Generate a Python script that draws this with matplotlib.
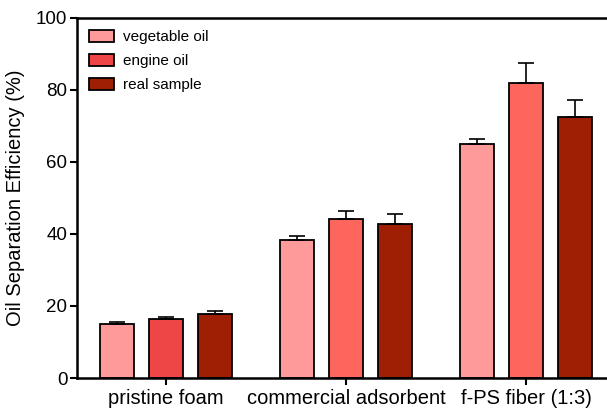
import matplotlib
matplotlib.use('Agg')
import matplotlib.pyplot as plt
import numpy as np

plt.rcParams['font.family'] = ['Liberation Sans', 'DejaVu Sans']

# Data
groups = ["pristine foam", "commercial adsorbent", "f-PS fiber (1:3)"]
series = ["vegetable oil", "engine oil", "real sample"]
vegetable = [15.0, 38.3, 65.0]
vegetable_err = [0.5, 1.1, 1.4]
engine = [16.4, 44.2, 81.9]
engine_err = [0.5, 2.2, 5.6]
real = [17.8, 42.8, 72.5]
real_err = [0.8, 2.7, 4.7]

COLORS = {
    "vegetable": "#FF9A9A",
    "engine": "#FC665C",
    "engine_first": "#EE4646",
    "real": "#9E1F04",
}

fig = plt.figure(figsize=(6.07, 4.08), dpi=100)
ax = fig.add_axes([0.127, 0.0735, 0.873, 0.8825])

x = np.arange(len(groups))
off = 0.272
w = 0.189
bar_kw = dict(width=w, edgecolor='black', linewidth=1.3,
              error_kw=dict(ecolor='black', elinewidth=1.2, capsize=6, capthick=1.2))

engine_colors = [COLORS["engine_first"], COLORS["engine"], COLORS["engine"]]
ax.bar(x - off, vegetable, yerr=[np.zeros(3), vegetable_err], color=COLORS["vegetable"],
       label=series[0], **bar_kw)
ax.bar(x, engine, yerr=[np.zeros(3), engine_err], color=engine_colors,
       label=series[1], **bar_kw)
ax.bar(x + off, real, yerr=[np.zeros(3), real_err], color=COLORS["real"],
       label=series[2], **bar_kw)

ax.set_xlim(-0.494, 2.45)
ax.set_ylim(0, 100)
ax.set_xticks(x)
ax.set_xticklabels(groups, fontsize=14.5)
ax.set_yticks([0, 20, 40, 60, 80, 100])
ax.tick_params(axis='y', labelsize=13.5, direction='out', length=5, width=1.5, pad=2)
ax.tick_params(axis='x', direction='out', length=5, width=1.5, pad=3)
ax.set_ylabel("Oil Separation Efficiency (%)", fontsize=14.5, labelpad=8)

for side in ['left', 'bottom', 'top']:
    ax.spines[side].set_linewidth(1.8)
ax.spines['right'].set_visible(False)

leg = ax.legend(loc='upper left', bbox_to_anchor=(0.0, 1.0), frameon=False, fontsize=11,
                handlelength=1.6, handleheight=0.8, labelspacing=0.65, borderaxespad=0.4,
                handletextpad=0.6)

plt.savefig("out.png", dpi=100)
plt.close()
